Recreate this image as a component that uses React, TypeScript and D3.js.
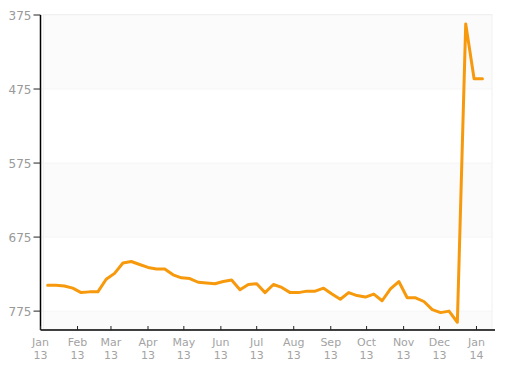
import React from "react";
import * as d3 from "d3";

const startDate = new Date(2013, 0, 7);
const weeklyValues: number[] = [
  740, 740, 741, 744, 750, 749, 749, 732, 724, 710,
  708, 712, 716, 718, 718, 726, 730, 731, 736, 737,
  738, 735, 733, 746, 739, 738, 750, 739, 743, 750,
  750, 748, 748, 744, 752, 759, 750, 754, 756, 752,
  761, 745, 735, 757, 757, 762, 773, 777, 775, 790,
  387, 461, 461,
];
const yTicks: number[] = [375, 475, 575, 675, 775];
const monthLabels: string[] = ["Jan", "Feb", "Mar", "Apr", "May", "Jun", "Jul", "Aug", "Sep", "Oct", "Nov", "Dec", "Jan"];
const yearLabels: string[] = ["13", "13", "13", "13", "13", "13", "13", "13", "13", "13", "13", "13", "14"];

const W = 518;
const H = 373;
const left = 40.5;
const right = 492;
const top = 15;
const bottom = 330;

export default function App() {
  const data = weeklyValues.map((v, i) => ({
    date: d3.timeDay.offset(startDate, i * 7),
    value: v,
  }));
  const x = d3
    .scaleTime()
    .domain([new Date(2013, 0, 1), new Date(2014, 0, 14)])
    .range([left, right]);
  const y = d3.scaleLinear().domain([375, 800.5]).range([top, bottom]);
  const line = d3
    .line<{ date: Date; value: number }>()
    .x((d) => x(d.date))
    .y((d) => y(d.value));
  const monthTicks = d3.timeMonth.range(new Date(2013, 0, 1), new Date(2014, 0, 2));
  const bandEdges = [375, 475, 575, 675, 775, 800.5];
  const font = "'DejaVu Sans', Verdana, sans-serif";

  return (
    <svg width={W} height={H} style={{ position: "absolute", left: 0, top: 0 }}>
      <rect x={0} y={0} width={W} height={H} fill="#fff" />
      {bandEdges.slice(0, -1).map((v, i) =>
        i % 2 === 0 ? (
          <rect
            key={"b" + i}
            x={left + 3}
            y={y(v)}
            width={right - left - 3}
            height={y(bandEdges[i + 1]) - y(v)}
            fill="#fbfbfb"
          />
        ) : null
      )}
      {yTicks.map((t) => (
        <line key={"g" + t} x1={left} x2={right} y1={y(t)} y2={y(t)} stroke="#f5f5f5" strokeWidth={1} />
      ))}
      <rect x={left + 3} y={top - 0.5} width={right - left - 3} height={bottom - top} fill="none" stroke="#f0f0f0" strokeWidth={1} />
      <path d={line(data) || ""} fill="none" stroke="#f7990c" strokeWidth={3} strokeLinejoin="round" strokeLinecap="round" />
      <line x1={left} x2={left} y1={top} y2={bottom} stroke="#000" strokeWidth={1.5} />
      <line x1={left} x2={right + 3} y1={bottom} y2={bottom} stroke="#000" strokeWidth={1.5} />
      {yTicks.map((t) => (
        <g key={"y" + t}>
          <line x1={left - 7} x2={left} y1={y(t)} y2={y(t)} stroke="#222" strokeWidth={1} />
          <text x={left - 9} y={y(t) + 4.5} textAnchor="end" fontFamily={font} fontSize={12} fill="#999">
            {t}
          </text>
        </g>
      ))}
      {monthTicks.map((d, i) => (
        <g key={"x" + i}>
          <line x1={x(d)} x2={x(d)} y1={bottom - 4} y2={bottom} stroke="#222" strokeWidth={1} />
          <text x={x(d)} y={346} textAnchor="middle" fontFamily={font} fontSize={11} fill="#a3a3a3">
            {monthLabels[i]}
          </text>
          <text x={x(d)} y={359} textAnchor="middle" fontFamily={font} fontSize={11} fill="#a3a3a3">
            {yearLabels[i]}
          </text>
        </g>
      ))}
    </svg>
  );
}
